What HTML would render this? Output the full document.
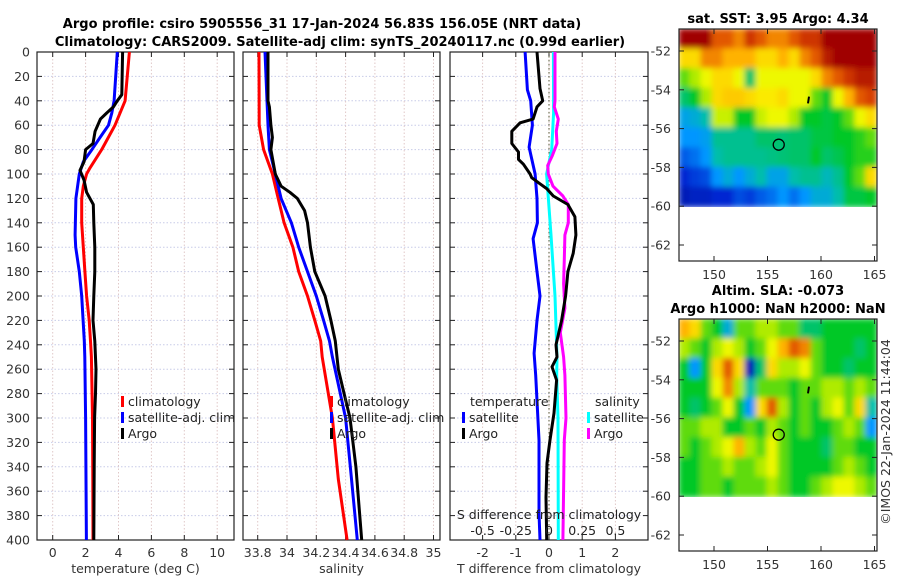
<!DOCTYPE html>
<html><head><meta charset="utf-8"><style>
body{margin:0;background:#fff;}
svg{display:block;font-family:"DejaVu Sans","Liberation Sans",sans-serif;}
</style></head><body>
<svg id="fig" width="900" height="580" viewBox="0 0 900 580" xmlns="http://www.w3.org/2000/svg">
<defs>
<filter id="bl" x="-5%" y="-5%" width="110%" height="110%"><feGaussianBlur stdDeviation="3"/></filter>
<clipPath id="c1"><rect x="679" y="29" width="198" height="178"/></clipPath>
<clipPath id="c2"><rect x="679" y="319" width="198" height="178"/></clipPath>
</defs>
<text x="322" y="28" font-size="13" font-weight="bold" text-anchor="middle">Argo profile: csiro 5905556_31 17-Jan-2024 56.83S 156.05E (NRT data)</text>
<text x="340" y="46" font-size="13" font-weight="bold" text-anchor="middle">Climatology: CARS2009. Satellite-adj clim: synTS_20240117.nc (0.99d earlier)</text>
<g id="panels"></g>
<g id="maps"></g>
<text x="778" y="23" font-size="13" font-weight="bold" text-anchor="middle">sat. SST: 3.95 Argo: 4.34</text>
<text x="778" y="295" font-size="13" font-weight="bold" text-anchor="middle">Altim. SLA: -0.073</text>
<text x="778" y="313" font-size="13" font-weight="bold" text-anchor="middle">Argo h1000: NaN h2000: NaN</text>
<text transform="translate(890,432) rotate(-90)" font-size="12.5" text-anchor="middle" fill="#333">©IMOS 22-Jan-2024 11:44:04</text>
</svg>
<script>
// ---- profile data (depth m, value) ----
const depthClim=[0,40,60,80,95,100,110,120,140,160,180,200,220,237,250,300,350,400];
const tempClim=[4.66,4.4,3.79,2.98,2.27,2.06,1.86,1.76,1.76,1.86,1.96,2.06,2.22,2.3,2.35,2.42,2.44,2.45];
const depthSat=[0,40,50,60,70,80,90,100,120,150,160,180,200,237,250,300,400];
const tempSat=[3.93,3.73,3.59,3.39,2.88,2.38,1.86,1.62,1.41,1.36,1.4,1.62,1.76,1.92,1.95,2.0,2.05];
const depthArgoT=[0,35,40,45,50,55,65,75,80,90,97,105,115,125,140,160,180,200,220,237,260,280,300,340,400];
const tempArgo=[4.25,4.2,3.93,3.69,3.28,2.9,2.58,2.45,2.0,1.9,1.66,1.9,2.06,2.47,2.5,2.56,2.56,2.5,2.45,2.56,2.63,2.6,2.55,2.52,2.5];
const depthSal=[0,60,80,100,120,140,160,180,200,220,237,250,300,350,400];
const salClim=[33.809,33.81,33.84,33.9,33.94,33.98,34.04,34.08,34.14,34.19,34.23,34.24,34.31,34.35,34.41];
const salSat=[33.85,33.87,33.88,33.92,33.96,34.03,34.08,34.14,34.2,34.25,34.29,34.31,34.4,34.44,34.48];
const depthSalArgo=[0,40,45,60,70,80,100,110,115,120,130,140,160,180,200,220,237,260,280,300,340,400];
const salArgo=[33.87,33.87,33.88,33.89,33.9,33.89,33.92,33.96,34.02,34.07,34.12,34.14,34.16,34.19,34.26,34.3,34.33,34.35,34.39,34.43,34.47,34.51];
const depthDT=[0,31,40,60,78,100,120,140,153,180,200,220,247,265,318,378,400];
const dTsat=[-0.72,-0.65,-0.55,-0.5,-0.6,-0.42,-0.36,-0.35,-0.48,-0.36,-0.27,-0.36,-0.45,-0.4,-0.3,-0.3,-0.27];
const depthDTA=[0,30,40,45,55,58,65,75,82,88,92,100,103,108,112,118,125,135,150,165,180,200,220,240,250,258,269,296,318,337,365,400];
const dTargo=[-0.36,-0.27,-0.19,-0.36,-0.48,-0.87,-1.12,-1.12,-0.92,-0.92,-0.77,-0.57,-0.52,-0.27,-0.07,0.13,0.57,0.78,0.81,0.73,0.57,0.5,0.38,0.21,0.24,0.09,0.23,0.15,0.03,-0.06,-0.09,-0.07];
const depthDS=[0,50,80,100,150,200,250,265,300,400];
const dSsat=[0.033,0.035,0.02,-0.018,0.015,0.045,0.06,0.058,0.068,0.07];
const depthDSA=[0,40,45,55,65,75,85,93,100,110,118,125,140,150,170,190,210,230,250,265,300,318,400];
const dSargo=[0.045,0.045,0.04,0.07,0.055,0.06,0.025,-0.01,-0.005,0.03,0.105,0.145,0.145,0.12,0.115,0.11,0.12,0.085,0.11,0.12,0.128,0.115,0.105];
const depthTicks=[0,20,40,60,80,100,120,140,160,180,200,220,240,260,280,300,320,340,360,380,400];
const tempTicks=[0,2,4,6,8,10];
const salTicks=[33.8,34,34.2,34.4,34.6,34.8,35];
const salTickLabels=["33.8","34","34.2","34.4","34.6","34.8","35"];
const dTTicks=[-2,-1,0,1,2];
const dSTicks=[-0.5,-0.25,0,0.25,0.5];
const dSTickLabels=["-0.5","-0.25","0","0.25","0.5"];
// ---- map data (0..1 on colormap), rows = lat -51..-60, cols = lon 147..165 ----
const sstGrid=[
[1,1,1,0.85,0.85,0.8,0.9,0.85,0.8,0.8,0.85,0.9,0.9,1,1,1,1,1],
[0.7,0.7,0.8,0.8,0.75,0.75,0.75,0.7,0.7,0.75,0.7,0.8,0.85,0.95,1,1,1,1],
[0.55,0.6,0.65,0.7,0.7,0.65,0.45,0.65,0.65,0.65,0.65,0.65,0.7,0.8,0.85,0.9,0.95,0.95],
[0.45,0.5,0.6,0.7,0.72,0.72,0.7,0.68,0.68,0.7,0.65,0.65,0.55,0.5,0.65,0.75,0.85,0.88],
[0.33,0.35,0.4,0.62,0.62,0.5,0.5,0.62,0.65,0.65,0.6,0.5,0.5,0.48,0.5,0.55,0.65,0.7],
[0.3,0.3,0.32,0.42,0.42,0.42,0.42,0.45,0.45,0.44,0.45,0.45,0.48,0.48,0.5,0.5,0.52,0.55],
[0.22,0.25,0.3,0.4,0.42,0.42,0.42,0.42,0.43,0.44,0.45,0.45,0.5,0.45,0.47,0.5,0.52,0.52],
[0.15,0.18,0.2,0.3,0.35,0.3,0.35,0.4,0.33,0.33,0.4,0.42,0.42,0.38,0.42,0.5,0.55,0.7],
[0.1,0.12,0.12,0.15,0.15,0.2,0.18,0.22,0.25,0.3,0.25,0.3,0.35,0.35,0.4,0.48,0.48,0.5]];
const slaGrid=[
[0.75,0.7,0.55,0.5,0.35,0.55,0.55,0.6,0.6,0.55,0.55,0.45,0.45,0.5,0.5,0.5,0.5,0.5],
[0.6,0.55,0.5,0.6,0.65,0.6,0.5,0.55,0.65,0.75,0.85,0.8,0.55,0.5,0.5,0.5,0.45,0.5],
[0.5,0.3,0.5,0.7,0.85,0.7,0.1,0.45,0.7,0.6,0.6,0.65,0.55,0.5,0.5,0.45,0.5,0.5],
[0.5,0.5,0.5,0.65,0.8,0.6,0.4,0.55,0.55,0.55,0.5,0.55,0.55,0.6,0.6,0.55,0.6,0.55],
[0.5,0.45,0.5,0.55,0.65,0.5,0.3,0.7,0.85,0.6,0.5,0.55,0.5,0.6,0.65,0.55,0.7,0.4],
[0.55,0.55,0.6,0.6,0.5,0.5,0.55,0.5,0.6,0.55,0.5,0.55,0.5,0.5,0.55,0.6,0.55,0.3],
[0.55,0.5,0.55,0.6,0.65,0.75,0.6,0.55,0.65,0.55,0.5,0.5,0.5,0.45,0.55,0.55,0.5,0.5],
[0.5,0.5,0.55,0.55,0.6,0.55,0.55,0.6,0.65,0.55,0.5,0.5,0.5,0.5,0.55,0.6,0.55,0.5],
[0.5,0.5,0.55,0.55,0.5,0.55,0.55,0.55,0.6,0.55,0.5,0.5,0.55,0.6,0.65,0.65,0.6,0.55]];
const floatLon=156.05, floatLat=-56.83;
const mapLatTicks=[-52,-54,-56,-58,-60,-62];
const mapLonTicks=[150,155,160,165];

const NS="http://www.w3.org/2000/svg";
function mk(tag,attrs,parent){const e=document.createElementNS(NS,tag);for(const k in attrs)e.setAttribute(k,attrs[k]);parent.appendChild(e);return e;}
const P=document.getElementById('panels');
const M=document.getElementById('maps');
const yD=d=>52+d*1.22;
const TOP=52,BOT=540;
const panels=[
 {x0:37,x1:234,sx:v=>52.7+v*16.45,ticks:tempTicks,labels:tempTicks.map(String),title:"temperature (deg C)",name:"temperature"},
 {x0:243,x1:440,sx:v=>257.7+(v-33.8)*146.5,ticks:salTicks,labels:salTickLabels,title:"salinity",name:"salinity"},
 {x0:450,x1:648,sx:v=>549+v*33.2,ticks:dTTicks,labels:dTTicks.map(String),title:"T difference from climatology",name:"difference"}];
const xS=v=>549+v*132.8;
panels.forEach((p,i)=>{
  const g=mk('g',{},P);
  
  
  depthTicks.forEach(d=>{const l=mk('line',{x1:p.x0,x2:p.x1,y1:yD(d),y2:yD(d),stroke:'#c8cce8','stroke-width':1,'stroke-dasharray':'1.5,2'},g);
    });
  p.ticks.forEach(t=>{const l=mk('line',{x1:p.sx(t),x2:p.sx(t),y1:TOP,y2:BOT,stroke:'#e0c8c8','stroke-width':1,'stroke-dasharray':'1.5,2'},g);
    });
  depthTicks.forEach(d=>{mk('line',{x1:p.x0,x2:p.x0+5,y1:yD(d),y2:yD(d),stroke:'#222'},g);mk('line',{x1:p.x1,x2:p.x1-5,y1:yD(d),y2:yD(d),stroke:'#222'},g);});
  p.ticks.forEach((t,k)=>{mk('line',{x1:p.sx(t),x2:p.sx(t),y1:TOP,y2:TOP+5,stroke:'#222'},g);mk('line',{x1:p.sx(t),x2:p.sx(t),y1:BOT,y2:BOT-5,stroke:'#222'},g);
    const tx=mk('text',{x:p.sx(t),y:557,'font-size':12.5,'text-anchor':'middle',fill:'#333'},g);tx.textContent=p.labels[k];
    });
  const at=mk('text',{x:(p.x0+p.x1)/2,y:573,'font-size':12.5,'text-anchor':'middle',fill:'#333'},g);at.textContent=p.title;
  
  const r=mk('rect',{x:p.x0,y:TOP,width:p.x1-p.x0,height:BOT-TOP,fill:'none',stroke:'#222','stroke-width':1.2},g);
  
  p.g=g;
});
depthTicks.forEach(d=>{const t=mk('text',{x:30,y:yD(d)+4.5,'font-size':12.5,'text-anchor':'end',fill:'#333'},P);t.textContent=d;
  });
const z=mk('line',{x1:549,x2:549,y1:TOP,y2:BOT,stroke:'#555533','stroke-width':1,'stroke-dasharray':'1.5,2.5'},panels[2].g);

function series(g,depths,vals,sx,color,name){
  const pts=depths.map((d,i)=>sx(vals[i]).toFixed(1)+','+yD(d).toFixed(1)).join(' ');
  const pl=mk('polyline',{points:pts,fill:'none',stroke:color,'stroke-width':3,'stroke-linejoin':'round'},g);
  
  
}
series(panels[0].g,depthClim,tempClim,panels[0].sx,'#ff0000','temp-climatology-line');
series(panels[0].g,depthSat,tempSat,panels[0].sx,'#0000ff','temp-satellite-line');
series(panels[0].g,depthArgoT,tempArgo,panels[0].sx,'#000','temp-argo-line');
series(panels[1].g,depthSal,salClim,panels[1].sx,'#ff0000','sal-climatology-line');
series(panels[1].g,depthSal,salSat,panels[1].sx,'#0000ff','sal-satellite-line');
series(panels[1].g,depthSalArgo,salArgo,panels[1].sx,'#000','sal-argo-line');
series(panels[2].g,depthDS,dSsat,xS,'#00ffff','sdiff-satellite-line');
series(panels[2].g,depthDSA,dSargo,xS,'#ff00ff','sdiff-argo-line');
series(panels[2].g,depthDT,dTsat,panels[2].sx,'#0000ff','tdiff-satellite-line');
series(panels[2].g,depthDTA,dTargo,panels[2].sx,'#000','tdiff-argo-line');
const g3=panels[2].g;
const st=mk('text',{x:549,y:519,'font-size':12.5,'text-anchor':'middle',fill:'#222'},g3);st.textContent='S difference from climatology';

dSTicks.forEach((v,k)=>{const t=mk('text',{x:xS(v),y:535,'font-size':12.5,'text-anchor':'middle',fill:'#222'},g3);t.textContent=dSTickLabels[k];
  });
function legend(g,x,y,color,label,name){
  const lg=mk('g',{},g);
  
  
  mk('rect',{x:x,y:y-10,width:3,height:11,fill:color},lg);
  const t=mk('text',{x:x+7,y:y,'font-size':12.5,fill:'#222'},lg);t.textContent=label;
}
legend(panels[0].g,121,406,'#ff0000','climatology','legend-climatology');
legend(panels[0].g,121,422,'#0000ff','satellite-adj. clim','legend-satellite');
legend(panels[0].g,121,438,'#000','Argo','legend-argo');
legend(panels[1].g,330,406,'#ff0000','climatology','legend-climatology');
legend(panels[1].g,330,422,'#0000ff','satellite-adj. clim','legend-satellite');
legend(panels[1].g,330,438,'#000','Argo','legend-argo');
const lt=mk('text',{x:470,y:406,'font-size':12.5,fill:'#222'},g3);lt.textContent='temperature';

const ls=mk('text',{x:595,y:406,'font-size':12.5,fill:'#222'},g3);ls.textContent='salinity';

legend(g3,462,422,'#0000ff','satellite','legend-t-satellite');
legend(g3,462,438,'#000','Argo','legend-t-argo');
legend(g3,587,422,'#00ffff','satellite','legend-s-satellite');
legend(g3,587,438,'#ff00ff','Argo','legend-s-argo');
// ---- maps ----
const cmapStops=[[0,[0,0,130]],[0.15,[0,40,210]],[0.3,[0,150,255]],[0.4,[0,190,170]],[0.5,[0,200,40]],[0.58,[150,230,0]],[0.66,[250,250,0]],[0.76,[255,170,0]],[0.87,[220,70,0]],[1,[160,0,0]]];
function cmap(v){
  v=Math.max(0,Math.min(1,v));
  for(let i=1;i<cmapStops.length;i++){
    if(v<=cmapStops[i][0]){const a=cmapStops[i-1],b=cmapStops[i];const f=(v-a[0])/(b[0]-a[0]);
      return 'rgb('+a[1].map((c,k)=>Math.round(c+(b[1][k]-c)*f)).join(',')+')';}
  }
  return 'rgb(160,0,0)';
}
function drawMap(top,grid,clip,name){
  const g=mk('g',{},M);
  
  
  const lx=lon=>714+(lon-150)*10.7;
  const ly=lat=>top+22+(-52-lat)*19.4;
  const img=mk('g',{'clip-path':'url(#'+clip+')'},g);
  const inner=mk('g',{filter:'url(#bl)'},img);
  const cw=198/18,ch=178/9;
  grid.forEach((row,r)=>row.forEach((v,c)=>{
    const cell=mk('rect',{x:679+c*cw-0.5,y:top+r*ch-0.5,width:cw+1,height:ch+1,fill:cmap(v)},inner);
    
    
  }));
  mapLatTicks.forEach(t=>{const y=ly(t);mk('line',{x1:679,x2:684,y1:y,y2:y,stroke:'#222'},g);mk('line',{x1:877,x2:872,y1:y,y2:y,stroke:'#222'},g);
    const tx=mk('text',{x:671,y:y+4.5,'font-size':12.5,'text-anchor':'end',fill:'#333'},g);tx.textContent=t;
    });
  mapLonTicks.forEach(t=>{const x=lx(t);mk('line',{x1:x,x2:x,y1:top,y2:top+5,stroke:'#222'},g);mk('line',{x1:x,x2:x,y1:top+232,y2:top+227,stroke:'#222'},g);
    const tx=mk('text',{x:x,y:top+250,'font-size':12.5,'text-anchor':'middle',fill:'#333'},g);tx.textContent=t;
    });
  const fc=mk('circle',{cx:lx(floatLon),cy:ly(floatLat),r:5.5,fill:'none',stroke:'#000','stroke-width':1.3},g);
  
  mk('line',{x1:809,x2:808,y1:ly(-54.35),y2:ly(-54.7),stroke:'#000','stroke-width':2},g);
  const b=mk('rect',{x:679,y:top,width:198,height:232,fill:'none',stroke:'#222','stroke-width':1.2},g);
  
}
drawMap(29,sstGrid,'c1','sst-map');
drawMap(319,slaGrid,'c2','sla-map');
</script>
</body></html>
